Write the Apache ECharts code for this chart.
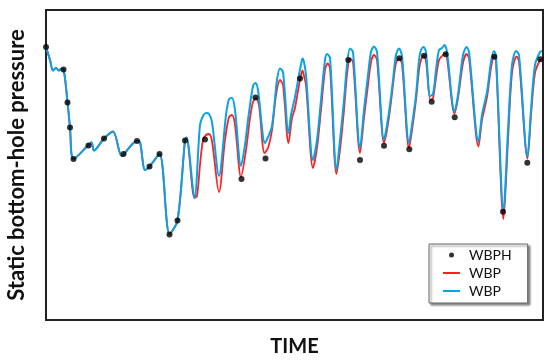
<!DOCTYPE html>
<html>
<head>
<meta charset="utf-8">
<script src="https://cdn.jsdelivr.net/npm/echarts@6/dist/echarts.min.js"></script>
<style>html,body{margin:0;padding:0;background:#fff;}#c{width:550px;height:361px;}</style>
</head>
<body>
<div id="c"></div>
<script>
// time (arbitrary units) , pressure (arbitrary units)
var sharedEarly = [[0,273],[4,260],[7,249.5],[10,252],[13,249.5],[15,251],[17.5,250.5],[21.5,218],[24,192.5],[27.5,161],[42,174.5],[45.5,177.5],[48,169.5],[58,181.5],[67,188.5],[75.5,164],[78,166],[91,179],[94,178],[99,150],[103.5,153.5],[113.5,166],[123.5,86],[131.5,99.5],[139,179.5],[140.5,182.5],[148.5,122]];

var wbpBlueLate = [[154,195],[157,204],[160,207],[163,206],[166,198],[173,144],[180,205],[183,221],[186,222],[189,210],[195,154],[199,175],[202,200],[207,234],[209.5,237],[212,230],[219,177],[222,183],[226,194],[231,240],[234,251.5],[237,248],[242.5,187],[245,205],[249,223],[253,245],[255.5,258],[256.5,261.5],[258,258],[260,245],[267,160],[271,180],[275,220],[279,260],[281,266],[284,262],[290.5,150],[294,180],[298,220],[301,255],[304,271.5],[307,268],[314,172],[318,210],[322,245],[325,268],[328,273.5],[331,268],[338,180],[341,195],[344,215],[347,240],[350,265],[353,271.5],[356,264],[363,177],[366,195],[370,225],[373,260],[375,270],[377.5,273],[380,268],[384,224],[387,226],[390,250],[393,270],[396,272],[398.5,275],[401,268],[408.5,208.5],[412,225],[417,265],[420.5,273],[423,268],[432.5,178.5],[436,205],[441,228],[445,258],[448,269],[450,264],[457.5,110],[462,190],[466,255],[470,269],[473,265],[481.5,163.5],[485,210],[489,255],[494,268],[496,269]];

var wbpRedLate = [[151,124],[154,155],[157,180],[160,185],[163,186],[166,179],[173,128],[179,180],[183,203],[186,205],[189,195],[195,143],[200,170],[204,202],[207,218],[210,222],[213,215],[218.5,167],[222,172],[226,190],[230,225],[234,240],[237,235],[242.5,177],[246,202],[249,212],[253,235],[255,245],[256.5,249.5],[258,244],[260,235],[267,152],[271,172],[275,210],[279,250],[281.5,256.5],[284,252],[290.5,146],[294,170],[298,210],[301,245],[304,261.5],[307,258],[314,167],[318,202],[322,235],[325,258],[328,265],[331,260],[338,177],[341,190],[344,210],[347,235],[350,257],[353,261.5],[356,256],[363,172],[366,190],[370,220],[373,250],[375,260],[377.5,264],[380,259],[384.5,220],[387,222],[390,242],[393,260],[396,264],[399,266.5],[401,262],[408.5,206.5],[412,222],[417,257],[420.5,266],[423,262],[432.5,173.5],[436,200],[441,223],[445,252],[448,264],[450,259],[457.5,101],[462,180],[466,247],[470.5,263.5],[473,259],[481.5,161.5],[485,205],[489,247],[494,260],[496,261]];

var wbph = [[0,273],[17.5,250.5],[21.5,217.5],[24,192.5],[27.5,161],[42.5,174.5],[58,181.5],[77.5,166],[91,179],[103.5,153.5],[113.5,166],[123.5,85.5],[131.5,99.5],[139,179.5],[159,180.5],[195.5,141],[209.5,222.5],[219.5,161.5],[254,241.5],[302.3,260],[314,160],[338,174.3],[353.3,261.7],[363.3,170.7],[378,264.3],[385.7,218.3],[399.7,265.7],[408.7,202.7],[448.3,263.3],[457,108.3],[481.3,157.3],[494.3,260.7]];

var xName = 'TIME';
var yName = 'Static bottom-hole pressure';
var legendNames = ['WBPH', 'WBP', 'WBP '];

var RED = '#FF2020', BLUE = '#08A2E6';
var lineIcon = 'path://M0,0 L17,0 L17,2 L0,2 Z';

var chart = echarts.init(document.getElementById('c'), null, {renderer: 'canvas'});
var FONT = 'Lato';
chart.setOption({
  animation: false,
  backgroundColor: '#fff',
  grid: {left: 46, right: 7, top: 10, bottom: 41, show: true, borderColor: '#222', borderWidth: 2,
         backgroundColor: 'transparent', containLabel: false, outerBoundsMode: 'none'},
  xAxis: {
    type: 'value', min: 0, max: 497,
    axisLine: {show: false}, axisTick: {show: false}, axisLabel: {show: false}, splitLine: {show: false},
    name: xName, nameLocation: 'middle', nameGap: 17,
    nameTextStyle: {fontFamily: FONT, fontWeight: 'bold', fontSize: 20, color: '#111'}
  },
  yAxis: {
    type: 'value', min: 0, max: 310,
    axisLine: {show: false}, axisTick: {show: false}, axisLabel: {show: false}, splitLine: {show: false},
    name: yName, nameLocation: 'middle', nameGap: 18,
    nameTextStyle: {fontFamily: FONT, fontWeight: 'bold', fontSize: 22, color: '#111'}
  },
  legend: {
    orient: 'vertical', left: 429, top: 244,
    data: [
      {name: legendNames[0], icon: 'circle'},
      {name: legendNames[1], icon: lineIcon},
      {name: legendNames[2], icon: lineIcon}
    ],
    formatter: function (n) { return n.trim(); },
    itemWidth: 17, itemHeight: 5, itemGap: 4,
    padding: [4, 16, 5, 14],
    backgroundColor: '#fff', borderColor: '#666', borderWidth: 1,
    shadowColor: 'rgba(0,0,0,0.45)', shadowBlur: 2, shadowOffsetX: 2, shadowOffsetY: 2,
    textStyle: {fontFamily: FONT, fontSize: 14, color: '#111', padding: [0, 0, 0, 4]}
  },
  series: [
    {name: 'WBP', type: 'line', data: sharedEarly.concat(wbpRedLate), smooth: 0.3, symbol: 'none',
     lineStyle: {color: RED, width: 1.8}, itemStyle: {color: RED}, z: 2},
    {name: 'WBP ', type: 'line', data: sharedEarly.concat(wbpBlueLate), smooth: 0.3, symbol: 'none',
     lineStyle: {color: BLUE, width: 2}, itemStyle: {color: BLUE}, z: 3},
    {name: 'WBPH', type: 'scatter', data: wbph, symbol: 'circle', symbolSize: 6,
     itemStyle: {color: '#000'}, z: 5}
  ]
});
</script>
</body>
</html>
